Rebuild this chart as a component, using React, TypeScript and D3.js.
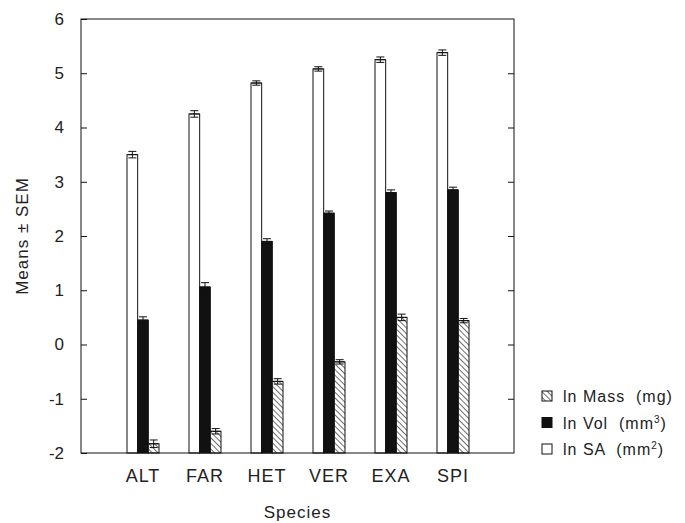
import React, { useEffect, useRef } from "react"
import * as d3 from "d3"

const species = ["ALT", "FAR", "HET", "VER", "EXA", "SPI"]
const seriesKeys = ["sa", "vol", "mass"]
const saMeans = [3.5, 4.25, 4.82, 5.08, 5.25, 5.38]
const saSem = [0.06, 0.06, 0.04, 0.04, 0.05, 0.05]
const volMeans = [0.45, 1.06, 1.9, 2.42, 2.8, 2.85]
const volSem = [0.06, 0.08, 0.05, 0.04, 0.05, 0.05]
const massMeans = [-1.83, -1.6, -0.68, -0.32, 0.5, 0.44]
const massSem = [0.07, 0.05, 0.05, 0.04, 0.06, 0.04]
const yTicks = [-2, -1, 0, 1, 2, 3, 4, 5, 6]

const FONT = "'Liberation Sans', Arial, sans-serif"

export default function App() {
	const ref = useRef<SVGSVGElement | null>(null)

	useEffect(() => {
		const svg = d3.select(ref.current)
		svg.selectAll("*").remove()

		const left = 81
		const right = 514
		const top = 19
		const bottom = 453

		const y = d3.scaleLinear().domain([-2, 6]).range([bottom, top])
		const x = d3.scaleBand().domain(species).range([127, 469]).paddingInner(0.484).paddingOuter(0)
		const xs = d3.scaleBand().domain(seriesKeys).range([0, x.bandwidth()])

		// hatch pattern, lines running top-left to bottom-right
		const defs = svg.append("defs")
		const pat = defs
			.append("pattern")
			.attr("id", "hatch")
			.attr("patternUnits", "userSpaceOnUse")
			.attr("width", 4)
			.attr("height", 4)
			.attr("patternTransform", "rotate(45)")
		pat.append("rect").attr("width", 4).attr("height", 4).attr("fill", "white")
		pat.append("line").attr("x1", 0).attr("y1", 0).attr("x2", 4).attr("y2", 0).attr("stroke", "#111").attr("stroke-width", 1.2)

		const series = [
			{ key: "sa", means: saMeans, sem: saSem, fill: "white" },
			{ key: "vol", means: volMeans, sem: volSem, fill: "#111" },
			{ key: "mass", means: massMeans, sem: massSem, fill: "url(#hatch)" },
		]

		series.forEach(s => {
			const g = svg.append("g")
			g.selectAll("rect")
				.data(species)
				.enter()
				.append("rect")
				.attr("x", d => (x(d) as number) + (xs(s.key) as number))
				.attr("y", (d, i) => y(s.means[i]))
				.attr("width", xs.bandwidth())
				.attr("height", (d, i) => y(-2) - y(s.means[i]))
				.attr("fill", s.fill)
				.attr("stroke", "#111")
				.attr("stroke-width", 1)

			// error bars
			species.forEach((d, i) => {
				const cx = (x(d) as number) + (xs(s.key) as number) + xs.bandwidth() / 2
				const hi = y(s.means[i] + s.sem[i])
				const lo = y(s.means[i] - s.sem[i])
				const eb = g.append("g").attr("stroke", "#111").attr("stroke-width", 1)
				eb.append("line").attr("x1", cx).attr("x2", cx).attr("y1", hi).attr("y2", lo)
				eb.append("line").attr("x1", cx - 4).attr("x2", cx + 4).attr("y1", hi).attr("y2", hi)
				eb.append("line").attr("x1", cx - 4).attr("x2", cx + 4).attr("y1", lo).attr("y2", lo)
				eb.append("line").attr("x1", cx - 5).attr("x2", cx + 5).attr("y1", y(s.means[i])).attr("y2", y(s.means[i]))
			})
		})

		// frame
		svg.append("rect")
			.attr("x", left)
			.attr("y", top)
			.attr("width", right - left)
			.attr("height", bottom - top)
			.attr("fill", "none")
			.attr("stroke", "#111")
			.attr("stroke-width", 1)

		// y ticks inward on both sides
		const yAxisL = d3
			.axisLeft(y)
			.tickValues(yTicks)
			.tickSizeInner(-6)
			.tickSizeOuter(0)
			.tickPadding(17)
			.tickFormat(d => String(d))
		const gl = svg.append("g").attr("transform", `translate(${left},0)`).call(yAxisL)
		gl.select(".domain").remove()
		gl.selectAll("text").attr("font-family", FONT).attr("font-size", 17).attr("fill", "#222")
		gl.selectAll("line").attr("stroke", "#111")

		const yAxisR = d3.axisRight(y).tickValues(yTicks.filter(t => t > -2 && t < 6)).tickSizeInner(-6).tickSizeOuter(0).tickFormat(() => "")
		const gr = svg.append("g").attr("transform", `translate(${right},0)`).call(yAxisR)
		gr.select(".domain").remove()
		gr.selectAll("line").attr("stroke", "#111")

		// x labels
		svg.append("g")
			.selectAll("text")
			.data(species)
			.enter()
			.append("text")
			.attr("x", d => (x(d) as number) + x.bandwidth() / 2)
			.attr("y", 482)
			.attr("text-anchor", "middle")
			.attr("font-family", FONT)
			.attr("font-size", 18)
			.attr("letter-spacing", 1)
			.attr("fill", "#222")
			.text(d => d)

		svg.append("text")
			.attr("x", (left + right) / 2)
			.attr("y", 518)
			.attr("text-anchor", "middle")
			.attr("font-family", FONT)
			.attr("font-size", 17)
			.attr("letter-spacing", 1)
			.attr("fill", "#222")
			.text("Species")

		svg.append("text")
			.attr("transform", `translate(28,${(top + bottom) / 2}) rotate(-90)`)
			.attr("text-anchor", "middle")
			.attr("font-family", FONT)
			.attr("font-size", 17)
			.attr("letter-spacing", 1)
			.attr("fill", "#222")
			.text("Means ± SEM")

		// legend
		const legend = [
			{ fill: "url(#hatch)", label: "ln Mass  (mg)", sup: "" },
			{ fill: "#111", label: "ln Vol  (mm", sup: "3" },
			{ fill: "white", label: "ln SA  (mm", sup: "2" },
		]
		const lg = svg.append("g").attr("transform", "translate(542,391)")
		legend.forEach((l, i) => {
			const row = lg.append("g").attr("transform", `translate(0,${i * 26.5})`)
			row.append("rect").attr("x", 0).attr("y", 0).attr("width", 10).attr("height", 10).attr("fill", l.fill).attr("stroke", "#111")
			const t = row
				.append("text")
				.attr("x", 21)
				.attr("y", 11)
				.attr("font-family", FONT)
				.attr("font-size", 16)
				.attr("letter-spacing", 1)
				.attr("fill", "#222")
				.style("white-space", "pre")
			t.append("tspan").text(l.label)
			if (l.sup) {
				t.append("tspan").attr("dy", -6).attr("font-size", 10).text(l.sup)
				t.append("tspan").attr("dy", 6).text(")")
			}
		})
	}, [])

	return (
		<svg
			ref={ref}
			width={685}
			height={523}
			style={{ position: "absolute", left: 0, top: 0, background: "white" }}
		/>
	)
}
